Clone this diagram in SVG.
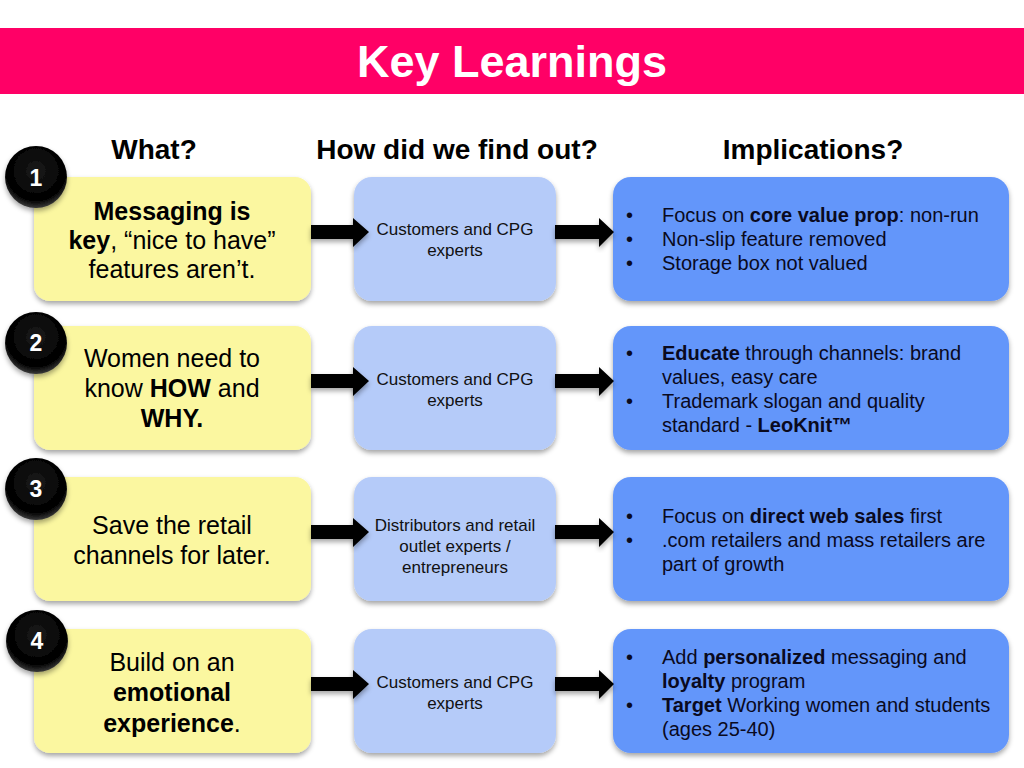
<svg xmlns="http://www.w3.org/2000/svg" width="1024" height="768" viewBox="0 0 1024 768">
<defs>
<filter id="sh" x="-10%" y="-10%" width="120%" height="130%">
<feDropShadow dx="0" dy="3" stdDeviation="2.5" flood-color="#000" flood-opacity="0.35"/>
</filter>
<radialGradient id="ball" cx="50%" cy="40%" r="60%">
<stop offset="0" stop-color="#1a1a1a"/>
<stop offset="0.8" stop-color="#000"/>
<stop offset="1" stop-color="#3a3a3a"/>
</radialGradient>
<path id="arrL" d="M311,-7 H353 V-14 L369,0 L353,15 V7 H311 Z"/>
<path id="arrR" d="M555,-7 H599 V-14 L614,0 L599,15 V7 H555 Z"/>
</defs>
<style>
.t{font-family:"Liberation Sans",Arial,sans-serif}
.b{font-weight:bold}
.y{fill:#FBF7A0;filter:url(#sh)}
.m{fill:#B5CBF9;filter:url(#sh)}
.d{fill:#6496FA;filter:url(#sh)}
.yt{font-family:"Liberation Sans",Arial,sans-serif;font-size:25px;fill:#000;text-anchor:middle}
.mt{font-family:"Liberation Sans",Arial,sans-serif;font-size:17px;fill:#111;text-anchor:middle}
.dt{font-family:"Liberation Sans",Arial,sans-serif;font-size:20px;fill:#0a0a1e}
.num{font-family:"Liberation Sans",Arial,sans-serif;font-size:23px;font-weight:bold;fill:#fff;text-anchor:middle}
.hd{font-family:"Liberation Sans",Arial,sans-serif;font-size:28px;font-weight:bold;fill:#000;text-anchor:middle}
.arrow{fill:#000;filter:url(#sh)}
.circ{fill:url(#ball);filter:url(#sh)}
</style>
<rect width="1024" height="768" fill="#fff"/>
<g id="title">
<rect x="0" y="28" width="1024" height="66" fill="#FF0066"/>
<text x="512" y="77" class="t b" font-size="45" fill="#fff" text-anchor="middle">Key Learnings</text>
</g>
<g id="headers">
<text x="154" y="159" class="hd">What?</text>
<text x="457" y="159" class="hd">How did we find out?</text>
<text x="813" y="159" class="hd">Implications?</text>
</g>
<!-- Row 1 -->
<g id="what1">
<rect x="34" y="177" width="277" height="124" rx="16" class="y"/>
<text class="yt"><tspan x="172" y="220" class="b">Messaging is</tspan><tspan x="172" y="249"><tspan class="b">key</tspan>, “nice to have”</tspan><tspan x="172" y="278">features aren’t.</tspan></text>
</g>
<g id="num1"><circle cx="36" cy="177" r="31" class="circ"/><text x="36" y="186" class="num">1</text></g>
<g id="how1">
<rect x="354" y="177" width="202" height="124" rx="18" class="m"/>
<text class="mt"><tspan x="455" y="235">Customers and CPG</tspan><tspan x="455" y="256">experts</tspan></text>
</g>
<g id="impl1">
<rect x="613" y="177" width="396" height="124" rx="18" class="d"/>
<text class="dt"><tspan x="626" y="222">•</tspan><tspan x="662" y="222">Focus on <tspan class="b">core value prop</tspan>: non-run</tspan><tspan x="626" y="246">•</tspan><tspan x="662" y="246">Non-slip feature removed</tspan><tspan x="626" y="270">•</tspan><tspan x="662" y="270">Storage box not valued</tspan></text>
</g>
<!-- Row 2 -->
<g id="what2">
<rect x="34" y="326" width="277" height="124" rx="16" class="y"/>
<text class="yt"><tspan x="172" y="367">Women need to</tspan><tspan x="172" y="397">know <tspan class="b">HOW</tspan> and</tspan><tspan x="172" y="427" class="b">WHY.</tspan></text>
</g>
<g id="num2"><circle cx="36" cy="343" r="31" class="circ"/><text x="36" y="351" class="num">2</text></g>
<g id="how2">
<rect x="354" y="326" width="202" height="124" rx="18" class="m"/>
<text class="mt"><tspan x="455" y="385">Customers and CPG</tspan><tspan x="455" y="406">experts</tspan></text>
</g>
<g id="impl2">
<rect x="613" y="326" width="396" height="124" rx="18" class="d"/>
<text class="dt"><tspan x="626" y="360">•</tspan><tspan x="662" y="360"><tspan class="b">Educate</tspan> through channels: brand</tspan><tspan x="662" y="384">values, easy care</tspan><tspan x="626" y="408">•</tspan><tspan x="662" y="408">Trademark slogan and quality</tspan><tspan x="662" y="432">standard - <tspan class="b">LeoKnit™</tspan></tspan></text>
</g>
<!-- Row 3 -->
<g id="what3">
<rect x="34" y="477" width="277" height="124" rx="16" class="y"/>
<text class="yt"><tspan x="172" y="534">Save the retail</tspan><tspan x="172" y="564">channels for later.</tspan></text>
</g>
<g id="num3"><circle cx="36" cy="489" r="31" class="circ"/><text x="36" y="497" class="num">3</text></g>
<g id="how3">
<rect x="354" y="477" width="202" height="124" rx="18" class="m"/>
<text class="mt"><tspan x="455" y="531">Distributors and retail</tspan><tspan x="455" y="552">outlet experts /</tspan><tspan x="455" y="573">entrepreneurs</tspan></text>
</g>
<g id="impl3">
<rect x="613" y="477" width="396" height="124" rx="18" class="d"/>
<text class="dt"><tspan x="626" y="523">•</tspan><tspan x="662" y="523">Focus on <tspan class="b">direct web sales</tspan> first</tspan><tspan x="626" y="547">•</tspan><tspan x="662" y="547">.com retailers and mass retailers are</tspan><tspan x="662" y="571">part of growth</tspan></text>
</g>
<!-- Row 4 -->
<g id="what4">
<rect x="34" y="629" width="277" height="124" rx="16" class="y"/>
<text class="yt"><tspan x="172" y="671">Build on an</tspan><tspan x="172" y="701" class="b">emotional</tspan><tspan x="172" y="732"><tspan class="b">experience</tspan>.</tspan></text>
</g>
<g id="num4"><circle cx="37" cy="641" r="31" class="circ"/><text x="37" y="649" class="num">4</text></g>
<g id="how4">
<rect x="354" y="629" width="202" height="124" rx="18" class="m"/>
<text class="mt"><tspan x="455" y="688">Customers and CPG</tspan><tspan x="455" y="709">experts</tspan></text>
</g>
<g id="impl4">
<rect x="613" y="629" width="396" height="124" rx="18" class="d"/>
<text class="dt"><tspan x="626" y="664">•</tspan><tspan x="662" y="664">Add <tspan class="b">personalized</tspan> messaging and</tspan><tspan x="662" y="688"><tspan class="b">loyalty</tspan> program</tspan><tspan x="626" y="712">•</tspan><tspan x="662" y="712"><tspan class="b">Target</tspan> Working women and students</tspan><tspan x="662" y="736">(ages 25-40)</tspan></text>
</g>
<g id="connectors">
<use href="#arrL" class="arrow" transform="translate(0,232)"/>
<use href="#arrR" class="arrow" transform="translate(0,232)"/>
<use href="#arrL" class="arrow" transform="translate(0,381)"/>
<use href="#arrR" class="arrow" transform="translate(0,381)"/>
<use href="#arrL" class="arrow" transform="translate(0,532)"/>
<use href="#arrR" class="arrow" transform="translate(0,532)"/>
<use href="#arrL" class="arrow" transform="translate(0,684)"/>
<use href="#arrR" class="arrow" transform="translate(0,684)"/>
</g>
</svg>
